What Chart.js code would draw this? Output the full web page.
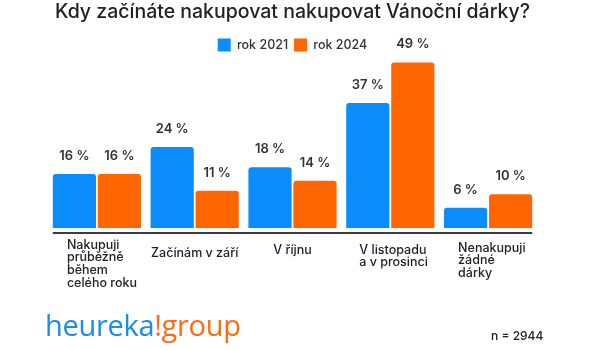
<!DOCTYPE html>
<html lang="cs">
<head>
<meta charset="utf-8">
<title>Kdy začínáte nakupovat Vánoční dárky?</title>
<script src="https://cdn.jsdelivr.net/npm/chart.js@4"></script>
<style>
  html, body { margin: 0; padding: 0; background: #fff; }
  #wrap { position: relative; width: 600px; height: 350px; }
  #logo {
    position: absolute; left: 45px; top: 309px;
    font: 500 29px "Open Sans", sans-serif; letter-spacing: -0.3px;
    color: #1a8de6; line-height: 32px;
  }
  #logo span { color: #ff6a14; }
  #note {
    position: absolute; left: 491px; top: 328px;
    font: 500 12px Inter, sans-serif; color: #222;
  }
</style>
</head>
<body>
<div id="wrap">
  <canvas id="chart" width="600" height="350"></canvas>
  <div id="logo">heureka<span>!group</span></div>
  <div id="note">n = 2944</div>
</div>
<script>
// ── Données ──────────────────────────────────────────────────────────
const TITLE = "Kdy začínáte nakupovat nakupovat Vánoční dárky?";
const CATEGORIES = [
  ["Nakupuji", "průběžně", "během", "celého roku"],
  ["Začínám v září"],
  ["V říjnu"],
  ["V listopadu", "a v prosinci"],
  ["Nenakupuji", "žádné", "dárky"],
];
const SERIES_NAMES = ["rok 2021", "rok 2024"];
const VALUES_2021 = [16, 24, 18, 37, 6];
const VALUES_2024 = [16, 11, 14, 49, 10];

const BLUE = "#0a8cfa";
const ORANGE = "#ff6602";

// ── Style des libellés de catégories (alignement, y de la 1re ligne) ──
const LABEL_STYLE = [
  { align: "left", dx: -30, y: 245 },
  { align: "center", dx: 0, y: 253 },
  { align: "center", dx: 0, y: 250 },
  { align: "left", dx: -31, y: 250 },
  { align: "left", dx: -30, y: 248 },
];

// valeurs au-dessus des barres
const valueLabels = {
  id: "valueLabels",
  afterDatasetsDraw(chart) {
    const { ctx } = chart;
    ctx.save();
    ctx.font = "600 13px Inter, sans-serif";
    ctx.fillStyle = "#333";
    ctx.textAlign = "center";
    ctx.textBaseline = "middle";
    chart.data.datasets.forEach((ds, di) => {
      chart.getDatasetMeta(di).data.forEach((bar, i) => {
        ctx.fillText(`${ds.data[i]} %`, bar.x, bar.y - 18);
      });
    });
    ctx.restore();
  },
};

// ligne d'axe + libellés de catégories
const axisLabels = {
  id: "axisLabels",
  afterDraw(chart) {
    const { ctx, chartArea } = chart;
    const xs = chart.scales.x;
    const first = chart.getDatasetMeta(0).data[0];
    const last = chart.getDatasetMeta(1).data[CATEGORIES.length - 1];
    ctx.save();
    ctx.strokeStyle = "#3c3c3c";
    ctx.lineWidth = 2;
    ctx.beginPath();
    ctx.moveTo(first.x - first.width / 2, chartArea.bottom + 5);
    ctx.lineTo(last.x + last.width / 2, chartArea.bottom + 5);
    ctx.stroke();

    ctx.font = "500 12.5px Inter, sans-serif";
    ctx.fillStyle = "#222";
    ctx.textBaseline = "middle";
    CATEGORIES.forEach((lines, i) => {
      const st = LABEL_STYLE[i];
      const x = xs.getPixelForValue(i) + st.dx;
      ctx.textAlign = st.align;
      lines.forEach((line, j) => ctx.fillText(line, x, st.y + j * 12.7));
    });
    ctx.restore();
  },
};

new Chart(document.getElementById("chart"), {
  type: "bar",
  data: {
    labels: CATEGORIES.map((c) => c.join(" ")),
    datasets: [
      { label: SERIES_NAMES[0], data: VALUES_2021, backgroundColor: BLUE },
      { label: SERIES_NAMES[1], data: VALUES_2024, backgroundColor: ORANGE },
    ],
  },
  options: {
    responsive: false,
    animation: false,
    layout: { padding: { left: 48, right: 63, top: 0, bottom: 122 } },
    datasets: {
      bar: {
        categoryPercentage: 0.92,
        barPercentage: 0.96,
        borderRadius: 3,
        borderSkipped: "bottom",
      },
    },
    plugins: {
      title: {
        display: true,
        text: TITLE,
        color: "#222",
        font: { family: "Inter", size: 19.5, weight: "500" },
        padding: { top: 0, bottom: 9 },
      },
      legend: {
        display: true,
        labels: {
          color: "#333",
          font: { family: "Inter", size: 12.5, weight: "500" },
          boxWidth: 13,
          boxHeight: 13,
          padding: 6,
        },
      },
      tooltip: { enabled: false },
    },
    scales: {
      x: { display: false },
      y: { display: false, min: 0, max: 49.3 },
    },
  },
  plugins: [valueLabels, axisLabels],
});
</script>
</body>
</html>
